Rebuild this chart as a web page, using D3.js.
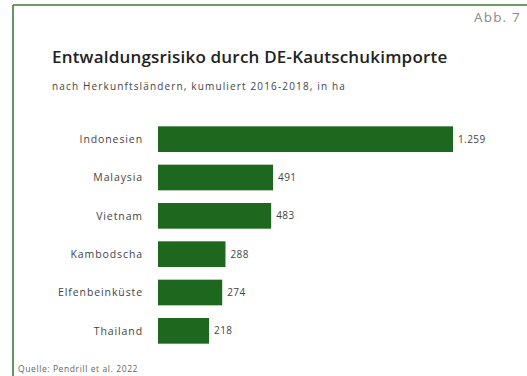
<!DOCTYPE html>
<html>
<head>
<meta charset="utf-8">
<script src="https://cdn.jsdelivr.net/npm/d3@7"></script>
<style>
  html, body { margin: 0; padding: 0; background: #fff; }
  svg { display: block; font-family: "Open Sans", "Noto Sans", sans-serif; }
</style>
</head>
<body>
<svg id="chart" width="527" height="376"></svg>
<script>
// Herkunftsländer und kumuliertes Entwaldungsrisiko 2016–2018 (ha)
const countries = ["Indonesien", "Malaysia", "Vietnam", "Kambodscha", "Elfenbeinküste", "Thailand"];
const hectares = [1259, 491, 483, 288, 274, 218];

const figureLabel = "Abb. 7";
const title = "Entwaldungsrisiko durch DE-Kautschukimporte";
const subtitle = "nach Herkunftsländern, kumuliert 2016-2018, in ha";
const source = "Quelle: Pendrill et al. 2022";

const W = 527, H = 376;
const green = "#1e671f";
const frameGreen = "#3a7d3a";

const svg = d3.select("#chart");

// Rahmen (rechts und unten angeschnitten)
svg.append("line").attr("x1", 13).attr("x2", W).attr("y1", 5).attr("y2", 5)
  .attr("stroke", frameGreen).attr("stroke-width", 1.6);
svg.append("line").attr("x1", 13).attr("x2", 13).attr("y1", 5).attr("y2", H)
  .attr("stroke", frameGreen).attr("stroke-width", 1.6);

svg.append("text").attr("x", 521).attr("y", 22).attr("text-anchor", "end")
  .attr("font-size", 13.5).attr("letter-spacing", 1.2).attr("fill", "#8a8a8a").text(figureLabel);

svg.append("text").attr("x", 52).attr("y", 63)
  .attr("font-size", 17).attr("font-weight", 600).attr("letter-spacing", 0.2)
  .attr("fill", "#222").text(title);

svg.append("text").attr("x", 52).attr("y", 90)
  .attr("font-size", 10).attr("letter-spacing", 1.15).attr("fill", "#444").text(subtitle);

const x = d3.scaleLinear().domain([0, 1259]).range([158, 453]);
const y = d3.scaleBand().domain(countries).range([120, 350])
  .paddingInner(0.33).paddingOuter(0.165);

const de = d3.formatLocale({ decimal: ",", thousands: ".", grouping: [3], currency: ["", " €"] });
const fmt = de.format(",d");

const data = countries.map((c, i) => ({ country: c, value: hectares[i] }));

svg.append("g").selectAll("rect").data(data).join("rect")
  .attr("x", x(0))
  .attr("y", d => y(d.country))
  .attr("width", d => x(d.value) - x(0))
  .attr("height", y.bandwidth())
  .attr("fill", green);

svg.append("g").selectAll("text").data(data).join("text")
  .attr("x", x(0) - 15)
  .attr("y", d => y(d.country) + y.bandwidth() / 2)
  .attr("dy", "0.35em")
  .attr("text-anchor", "end")
  .attr("font-size", 10.5)
  .attr("letter-spacing", 0.9)
  .attr("fill", "#444")
  .text(d => d.country);

svg.append("g").selectAll("text").data(data).join("text")
  .attr("x", d => x(d.value) + 5)
  .attr("y", d => y(d.country) + y.bandwidth() / 2)
  .attr("dy", "0.35em")
  .attr("font-size", 10)
  .attr("letter-spacing", 0.4)
  .attr("fill", "#444")
  .text(d => fmt(d.value));

svg.append("text").attr("x", 18).attr("y", 372)
  .attr("font-size", 8.5).attr("letter-spacing", 0.6).attr("fill", "#666").text(source);
</script>
</body>
</html>
